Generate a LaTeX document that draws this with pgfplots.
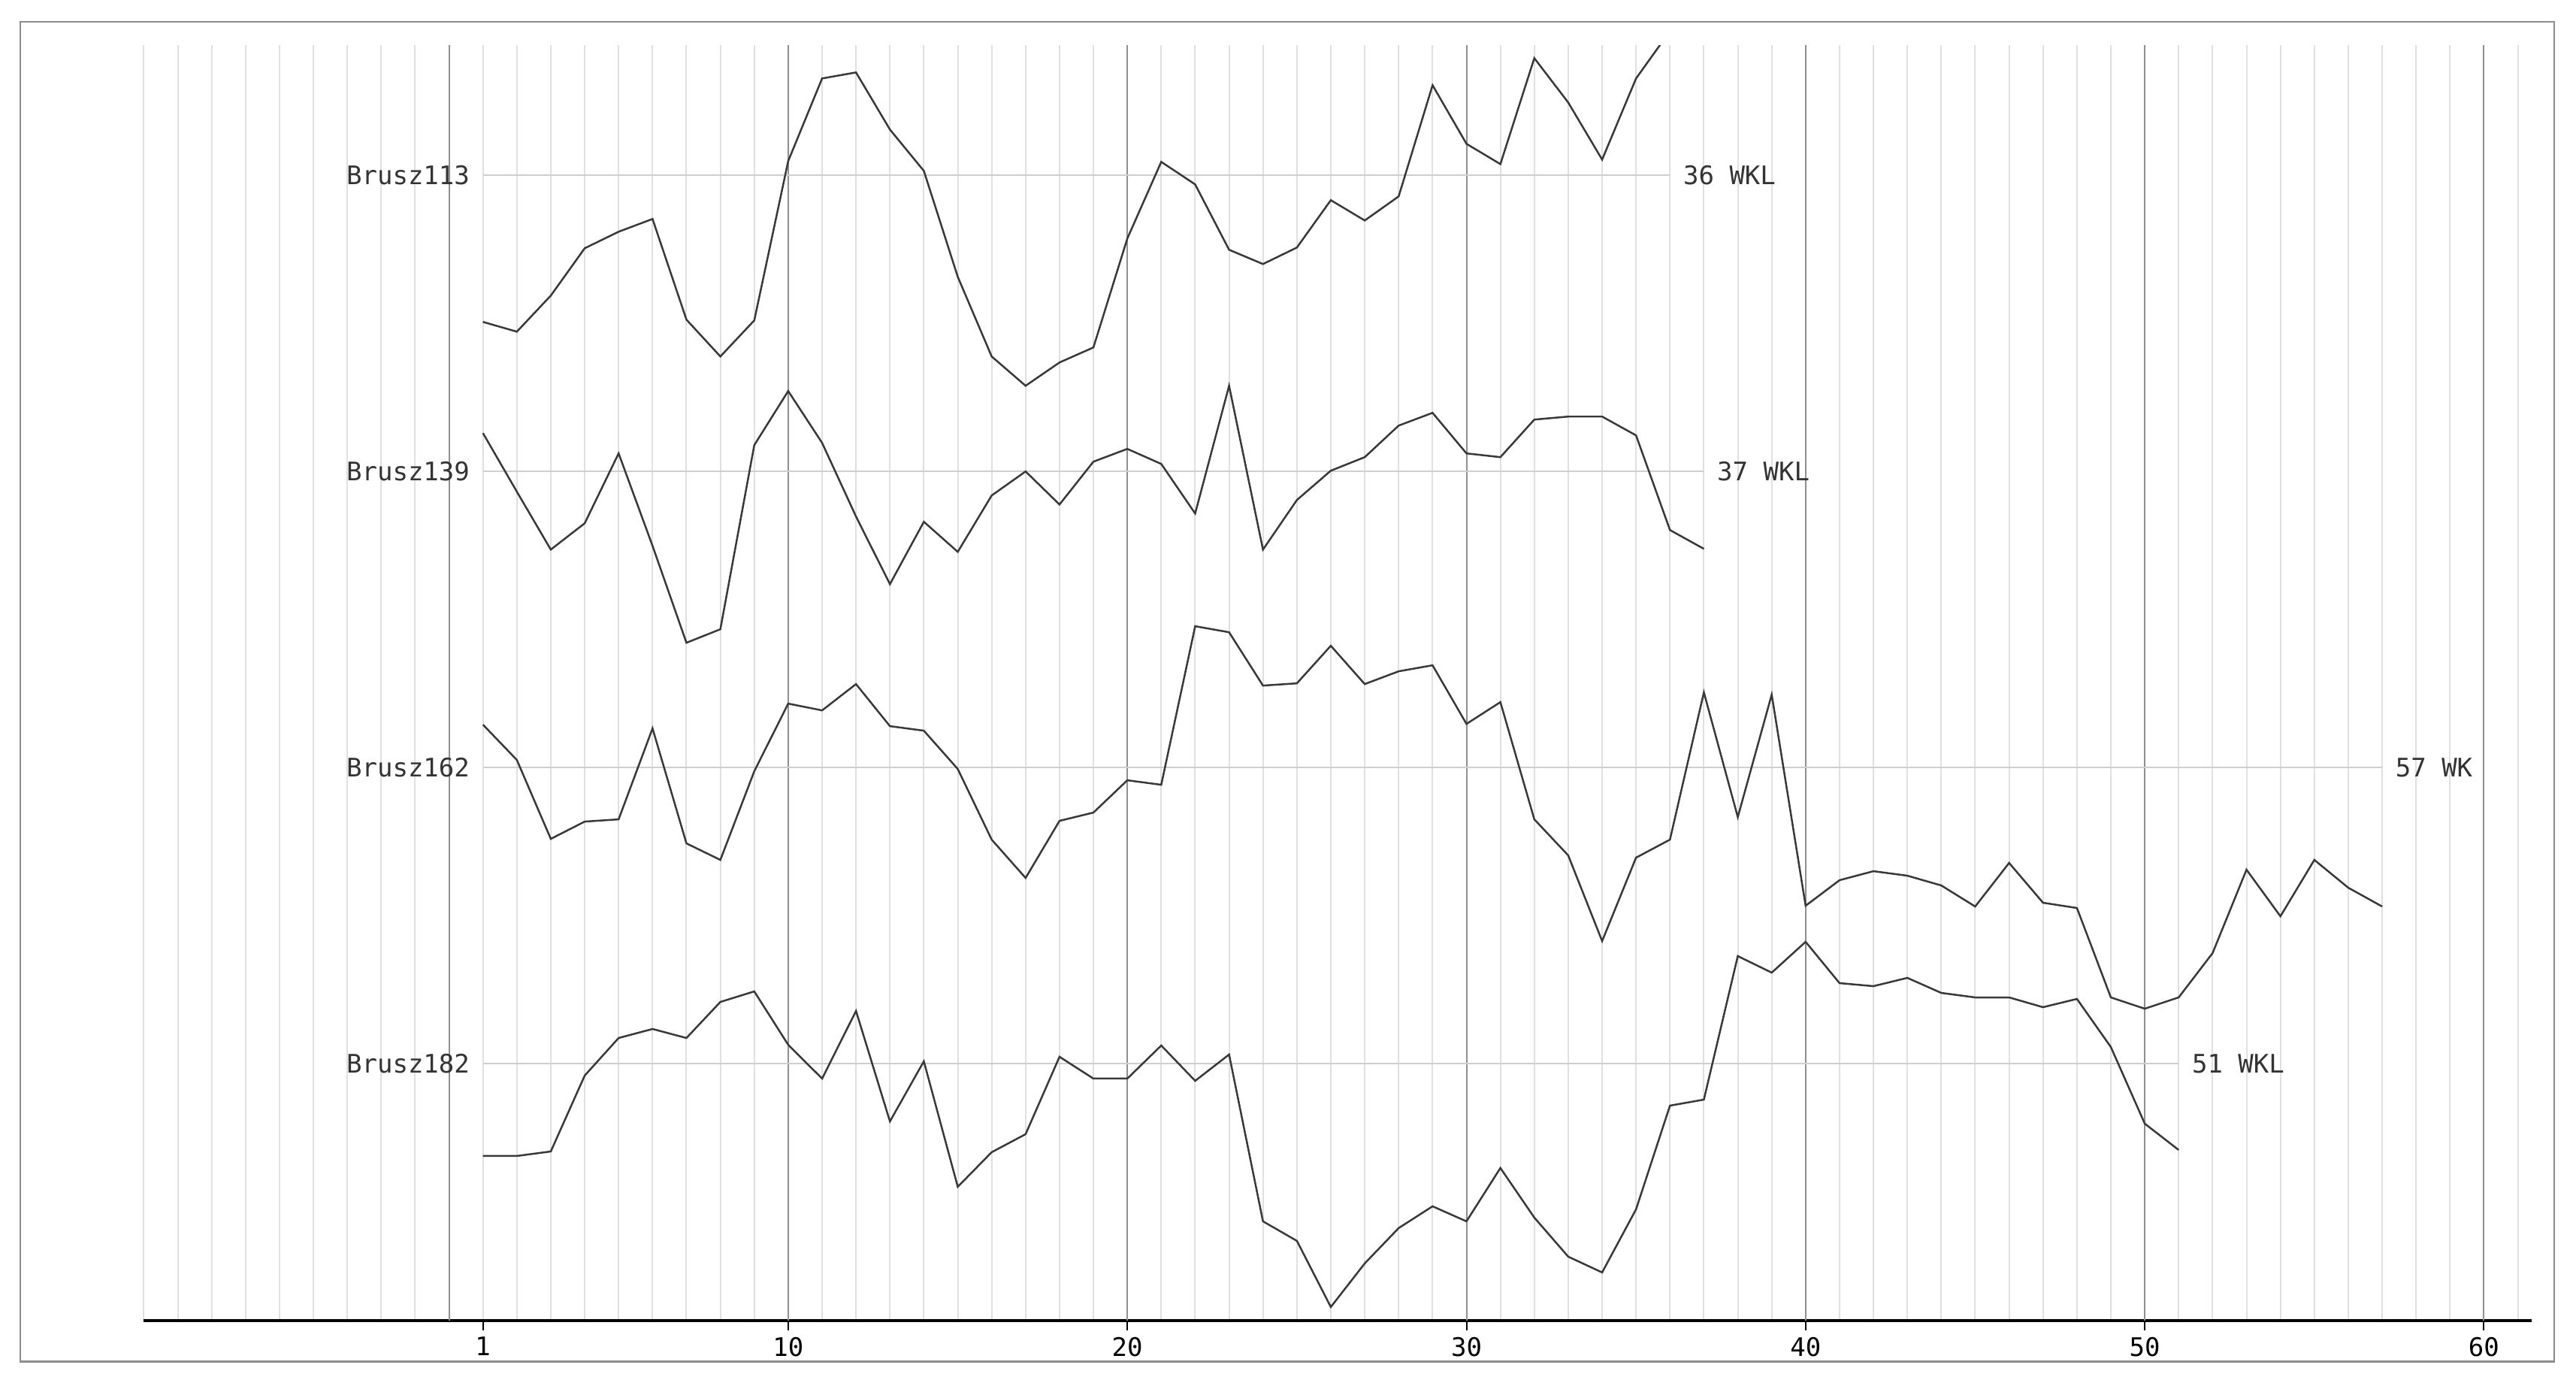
\documentclass[border=0pt]{standalone}
\usepackage{pgfplots}
\pgfplotsset{compat=1.18}
\usepackage{pgfplotstable}
\usepackage{fontspec}
\setmainfont{DejaVu Sans}
\setmonofont{DejaVu Sans Mono}

\definecolor{txt}{HTML}{333333}
\definecolor{ser}{HTML}{383838}
\definecolor{base}{HTML}{CFCFCF}
\definecolor{minorg}{HTML}{E0E0E0}
\definecolor{majorg}{HTML}{8F8F8F}
\definecolor{framec}{HTML}{8C8C8C}

% heights above the x axis, one row per week
\pgfplotstableread{
x v
1 1329
2 1316
3 1364
4 1427
5 1449
6 1466
7 1332
8 1283
9 1331
10 1543
11 1653
12 1661
13 1585
14 1530
15 1389
16 1283
17 1244
18 1275
19 1295
20 1440
21 1542
22 1512
23 1425
24 1406
25 1428
26 1491
27 1464
28 1496
29 1644
30 1566
31 1539
32 1680
33 1621
34 1545
35 1653
36 1716
}\bruszA

\pgfplotstableread{
x v
1 1181
2 1103
3 1026
4 1061
5 1154
6 1031
7 902
8 920
9 1165
10 1237
11 1168
12 1070
13 980
14 1063
15 1023
16 1098
17 1130
18 1086
19 1143
20 1160
21 1140
22 1074
23 1244
24 1026
25 1092
26 1131
27 1149
28 1191
29 1208
30 1154
31 1149
32 1199
33 1203
34 1203
35 1178
36 1052
37 1027
}\bruszB

\pgfplotstableread{
x v
1 793
2 746
3 641
4 664
5 667
6 788
7 635
8 613
9 731
10 821
11 812
12 847
13 791
14 785
15 734
16 640
17 589
18 665
19 676
20 719
21 713
22 924
23 916
24 845
25 848
26 898
27 847
28 864
29 872
30 794
31 823
32 667
33 619
34 505
35 616
36 640
37 836
38 670
39 833
40 552
41 586
42 598
43 592
44 579
45 551
46 609
47 556
48 549
49 430
50 415
51 430
52 489
53 600
54 538
55 613
56 576
57 551
}\bruszC

\pgfplotstableread{
x v
1 219
2 219
3 225
4 326
5 376
6 388
7 376
8 424
9 438
10 367
11 322
12 412
13 265
14 345
15 178
16 224
17 248
18 351
19 322
20 322
21 366
22 319
23 354
24 132
25 106
26 18
27 76
28 123
29 152
30 132
31 203
32 137
33 85
34 64
35 148
36 286
37 294
38 485
39 463
40 504
41 449
42 445
43 456
44 436
45 430
46 430
47 417
48 428
49 364
50 262
51 227
}\bruszD

\begin{document}
\begin{tikzpicture}
\begin{axis}[
  scale only axis,
  width=794.35bp, height=424.15bp,
  xmin=-9, xmax=61.4, ymin=0, ymax=1697,
  axis x line=bottom, axis y line=none,
  x axis line style={-, black, line width=0.9bp},
  xtick={1,10,20,30,40,50,60},
  xticklabels={1,10,20,30,40,50,60},
  ytick=\empty,
  tick align=outside,
  major tick length=3.3bp,
  every tick/.style={black, line width=0.5bp},
  minor xtick={-9,-8,...,61},
  minor tick length=0pt,
  xminorgrids=true,
  minor grid style={minorg, line width=0.5bp},
  extra x ticks={0,10,...,60},
  extra x tick labels={},
  extra x tick style={xmajorgrids=true, major tick length=0pt,
    major grid style={majorg, line width=0.5bp}},
  /pgf/number format/assume math mode=true,
  tick label style={font=\ttfamily\fontsize{8.5bp}{10bp}\selectfont, text=black},
  xticklabel style={yshift=1.3bp},
  clip mode=individual,
]
% baselines
\addplot[base, line width=0.5bp] coordinates {(1,1524) (36,1524)};
\addplot[base, line width=0.5bp] coordinates {(1,1130) (37,1130)};
\addplot[base, line width=0.5bp] coordinates {(1,736) (57,736)};
\addplot[base, line width=0.5bp] coordinates {(1,342) (51,342)};
% series
\addplot[ser, line width=0.62bp] table[x=x, y=v] {\bruszA};
\addplot[ser, line width=0.62bp] table[x=x, y=v] {\bruszB};
\addplot[ser, line width=0.62bp] table[x=x, y=v] {\bruszC};
\addplot[ser, line width=0.62bp] table[x=x, y=v] {\bruszD};
% labels
\tikzset{lbl/.style={font=\ttfamily\fontsize{8.5bp}{10bp}\selectfont, text=txt, inner sep=0pt}}
\node[lbl, anchor=east, xshift=-4.25bp] at (axis cs:1,1524) {Brusz113};
\node[lbl, anchor=east, xshift=-4.25bp] at (axis cs:1,1130) {Brusz139};
\node[lbl, anchor=east, xshift=-4.25bp] at (axis cs:1,736) {Brusz162};
\node[lbl, anchor=east, xshift=-4.25bp] at (axis cs:1,342) {Brusz182};
\node[lbl, anchor=west, xshift=4.25bp] at (axis cs:36,1524) {36 WKL};
\node[lbl, anchor=west, xshift=4.25bp] at (axis cs:37,1130) {37 WKL};
\node[lbl, anchor=west, xshift=4.25bp] at (axis cs:57,736) {57 WK};
\node[lbl, anchor=west, xshift=4.25bp] at (axis cs:51,342) {51 WKL};
\end{axis}
\draw[framec, line width=0.7bp]
  ([shift={(-41.1bp,-13.75bp)}]current axis.south west) rectangle
  ([shift={(7.6bp,7.85bp)}]current axis.north east);
\path
  ([shift={(-47.85bp,-21.75bp)}]current axis.south west) rectangle
  ([shift={(14.85bp,15.1bp)}]current axis.north east);
\end{tikzpicture}
\end{document}
